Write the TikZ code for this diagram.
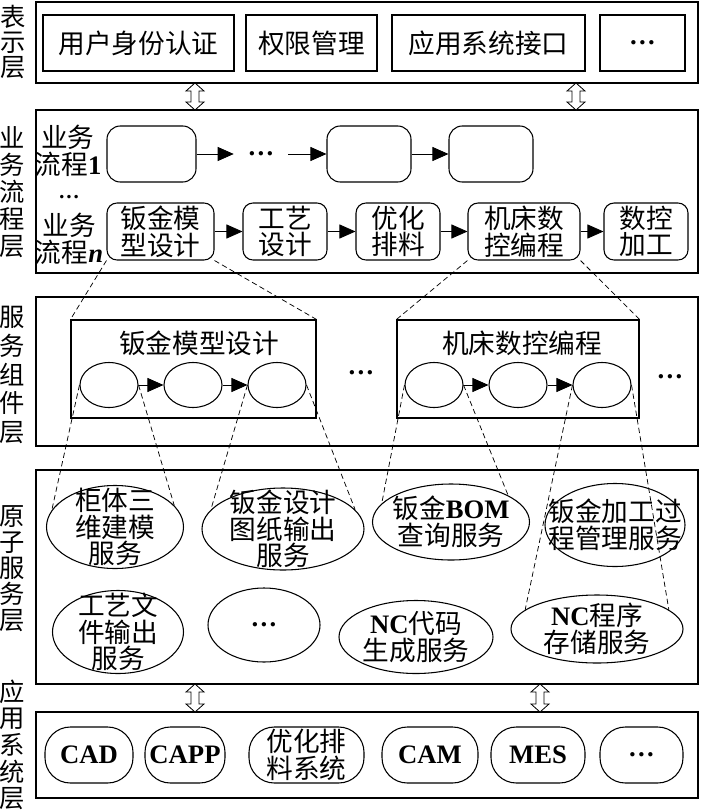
\documentclass[tikz,border=0pt]{standalone}
\usepackage{fontspec}
\setmainfont{Liberation Serif}
\newfontfamily\cjk{Noto Sans CJK SC}
\newfontfamily\lat{Liberation Serif}
\usetikzlibrary{shapes.geometric,arrows.meta}
\newcommand\latw[1]{{\lat\bfseries #1}}
\newcommand\cornerbox[7]{\node[#6, minimum width={(#4-#2)*0.75pt}, minimum height={(#5-#3)*0.75pt}] (#1) at ({(#2+#4)/2},{(#3+#5)/2}) {#7};}
\newcommand\enode[6]{\node[ell, minimum width={#4*0.75pt}, minimum height={#5*0.75pt}] (#1) at (#2,#3) {#6};}
\newcommand\dblarr[3]{\draw[hollow] (#1,#2) -- ++(9,8) -- ++(-5,0) -- (#1+4,#3-8) -- ++(5,0) -- (#1,#3) -- ++(-9,-8) -- ++(5,0) -- (#1-4,#2+8) -- ++(-5,0) -- cycle;}
\begin{document}
\begin{tikzpicture}[x=0.75pt,y=-0.75pt,
  every node/.style={font=\cjk\fontsize{20pt}{20pt}\selectfont, inner sep=0pt, align=center},
  layer/.style={draw, line width=0.9pt, rectangle},
  box/.style={draw, line width=0.8pt, rectangle},
  rbig/.style={box, rounded corners=10pt},
  rsm/.style={box, rounded corners=7.5pt},
  stad/.style={box, rounded corners=19pt},
  ell/.style={draw, ellipse, line width=0.8pt, inner sep=-40pt},
  flow/.style={-{Triangle[length=12pt,width=10.5pt]}, line width=0.6pt},
  link/.style={dash pattern=on 4pt off 2.5pt, line width=0.55pt},
  hollow/.style={draw, fill=white, line width=0.6pt},
  vlab/.style={font=\cjk\fontsize{19pt}{#1}\selectfont}]
\useasboundingbox (0,0) rectangle (700,810);

% layer frames
\cornerbox{L1}{36}{2}{698}{83}{layer}{}
\cornerbox{L2}{36}{110}{698}{273}{layer}{}
\cornerbox{L3}{36}{297}{698}{446}{layer}{}
\cornerbox{L4}{36}{470}{698}{684}{layer}{}
\cornerbox{L5}{36}{712}{698}{798}{layer}{}

% layer labels
\node[vlab=18.75pt] (t1) at (13,42) {表\\示\\层};
\node[vlab=20.25pt] (t2) at (12,192) {业\\务\\流\\程\\层};
\node[vlab=21.4pt] (t3) at (12,375) {服\\务\\组\\件\\层};
\node[vlab=19.5pt] (t4) at (12,569) {原\\子\\服\\务\\层};
\node[vlab=20pt] (t5) at (12,745) {应\\用\\系\\统\\层};

% presentation layer
\cornerbox{a1}{43}{15}{234}{71}{box}{用户身份认证}
\cornerbox{a2}{246}{15}{377}{71}{box}{权限管理}
\cornerbox{a3}{392}{15}{585}{71}{box}{应用系统接口}
\cornerbox{a4}{600}{15}{685}{71}{box}{\latw{…}}

% business process layer
\node (lb1) at (68,151) {业务\\流程\latw{1}};
\node[font=\lat\bfseries\fontsize{16pt}{16pt}\selectfont] (lbd) at (69,197) {…};
\node (lbn) at (69,239) {业务\\流程{\lat\bfseries\itshape n}};
\cornerbox{q1}{107}{126}{196}{182}{rbig}{}
\node[minimum width={54*0.75pt}] (qd) at (261,154) {\latw{…}};
\cornerbox{q2}{327}{126}{411}{182}{rbig}{}
\cornerbox{q3}{449}{126}{533}{182}{rbig}{}
\draw[flow] (q1.east) -- (qd.west);
\draw[flow] (qd.east) -- (q2.west);
\draw[flow] (q2.east) -- (q3.west);
\cornerbox{p1}{107}{203}{214}{260}{rsm}{钣金模\\型设计}
\cornerbox{p2}{243}{203}{327}{260}{rsm}{工艺\\设计}
\cornerbox{p3}{356}{203}{440}{260}{rsm}{优化\\排料}
\cornerbox{p4}{468}{203}{580}{260}{rsm}{机床数\\控编程}
\cornerbox{p5}{604}{203}{688}{260}{rsm}{数控\\加工}
\draw[flow] (p1.east) -- (p2.west);
\draw[flow] (p2.east) -- (p3.west);
\draw[flow] (p3.east) -- (p4.west);
\draw[flow] (p4.east) -- (p5.west);

% service component layer
\cornerbox{c1}{71}{320}{316}{418}{box}{}
\node (c1t) at (199,343) {钣金模型设计};
\enode{s1}{109}{385}{58}{45}{}
\enode{s2}{193}{385}{58}{45}{}
\enode{s3}{277}{385}{58}{45}{}
\draw[flow] (s1.east) -- (s2.west);
\draw[flow] (s2.east) -- (s3.west);
\node (d3a) at (361,373) {\latw{…}};
\cornerbox{c2}{397}{320}{639}{418}{box}{}
\node (c2t) at (522,343) {机床数控编程};
\enode{s4}{434}{385}{58}{45}{}
\enode{s5}{518}{385}{58}{45}{}
\enode{s6}{602}{385}{58}{45}{}
\draw[flow] (s4.east) -- (s5.west);
\draw[flow] (s5.east) -- (s6.west);
\node (d3b) at (670,377) {\latw{…}};

% atomic service layer
\enode{e1}{115}{527}{137}{83}{柜体三\\维建模\\服务}
\enode{e2}{283}{529}{162}{82}{钣金设计\\图纸输出\\服务}
\enode{e3}{451}{522}{157}{76}{钣金\latw{BOM}\\查询服务}
\enode{e4}{615}{525}{140}{83}{钣金加工过\\程管理服务}
\enode{e5}{118}{632}{131}{83}{工艺文\\件输出\\服务}
\enode{e6}{264}{625}{112}{74}{\latw{…}}
\enode{e7}{416}{637}{154}{73}{\latw{NC}代码\\生成服务}
\enode{e8}{597}{629}{172}{68}{\latw{NC}程序\\存储服务}

% application system layer
\cornerbox{m1}{45}{727}{133}{783}{stad}{\latw{CAD}}
\cornerbox{m2}{145}{727}{225}{783}{stad}{\latw{CAPP}}
\cornerbox{m3}{249}{727}{364}{783}{stad}{优化排\\料系统}
\cornerbox{m4}{382}{727}{478}{783}{stad}{\latw{CAM}}
\cornerbox{m5}{491}{727}{585}{783}{stad}{\latw{MES}}
\cornerbox{m6}{600}{727}{683}{783}{stad}{\latw{…}}

% dashed links
\draw[link] (p1.south west) -- (c1.north west);
\draw[link] (p1.south east) -- (c1.north east);
\draw[link] (p4.south west) -- (c2.north west);
\draw[link] (p4.south east) -- (c2.north east);
\draw[link] (s1.west) -- (e1.165);
\draw[link] (s1.east) -- (e1.20);
\draw[link] (s3.west) -- (e2.165);
\draw[link] (s3.east) -- (e2.15);
\draw[link] (s4.west) -- (e3.165);
\draw[link] (s4.east) -- (e3.25);
\draw[link] (s6.west) -- (e8.165);
\draw[link] (s6.east) -- (e8.15);

% hollow double arrows between layers
\dblarr{195}{83}{110}
\dblarr{576}{83}{110}
\dblarr{195}{684}{712}
\dblarr{540}{684}{712}
\end{tikzpicture}
\end{document}
